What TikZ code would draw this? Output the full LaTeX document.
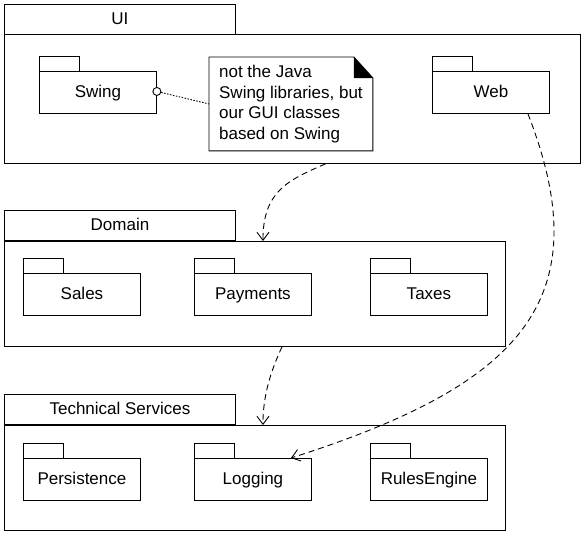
\documentclass[tikz,border=0pt]{standalone}
\usepackage{fontspec}
\setmainfont{Liberation Sans}
\usetikzlibrary{arrows.meta}

\begin{document}
\begin{tikzpicture}[x=1pt,y=1pt,line width=0.9pt,
    font=\fontsize{17}{20.5}\selectfont,
    box/.style={draw,rectangle,anchor=north west,inner sep=0pt},
    label text/.style={text height=14pt,text depth=3pt},
    bigtab/.style={box,label text,minimum width=231pt,minimum height=30pt},
    smalltab/.style={box,minimum width=40pt,minimum height=15pt},
    smallpkg/.style={box,label text,minimum width=117pt,minimum height=42pt},
    dep/.style={dash pattern=on 6pt off 4pt,-{Straight Barb[length=8pt,width=12pt]}}]
    \useasboundingbox (0,0) rectangle (584,-533);

    % UI layer
    \node[bigtab] (uitab) at (4,-4) {UI};
    \node[box,minimum width=576pt,minimum height=129pt] (ui) at (4,-34) {};
    \node[smalltab] (swingtab) at (39,-56) {};
    \node[smallpkg] (swing) at (39,-71) {Swing};
    \node[smalltab] (webtab) at (432,-56) {};
    \node[smallpkg] (web) at (432,-71) {Web};
    \node[anchor=north west,minimum width=163pt,minimum height=93pt,
          inner sep=0pt,align=left] (note) at (209,-57)
          {not the Java\\Swing libraries, but\\our GUI classes\\based on Swing};
    \draw (note.north west) -- ([xshift=-19pt]note.north east)
          -- ([yshift=-21pt]note.north east) -- (note.south east)
          -- (note.south west) -- cycle;
    \fill ([xshift=-19pt]note.north east) -- ([xshift=-19pt,yshift=-21pt]note.north east)
          -- ([yshift=-21pt]note.north east) -- cycle;
    \node[circle,draw,fill=white,inner sep=0pt,minimum size=8pt] (knob) at ([yshift=1pt]swing.east) {};
    \draw[dash pattern=on 1.5pt off 1.5pt] (knob) -- (note.west);

    % Domain layer
    \node[bigtab] (domaintab) at (4,-210) {Domain};
    \node[box,minimum width=501pt,minimum height=105pt] (domain) at (4,-241) {};
    \node[smalltab] (salestab) at (23,-258) {};
    \node[smallpkg] (sales) at (23,-273) {Sales};
    \node[smalltab] (paymentstab) at (194,-258) {};
    \node[smallpkg] (payments) at (194,-273) {Payments};
    \node[smalltab] (taxestab) at (370,-258) {};
    \node[smallpkg] (taxes) at (370,-273) {Taxes};

    % Technical Services layer
    \node[bigtab] (techtab) at (4,-394) {Technical Services};
    \node[box,minimum width=501pt,minimum height=105pt] (tech) at (4,-425) {};
    \node[smalltab] (persistencetab) at (23,-443) {};
    \node[smallpkg] (persistence) at (23,-458) {Persistence};
    \node[smalltab] (loggingtab) at (194,-443) {};
    \node[smallpkg] (logging) at (194,-458) {Logging};
    \node[smalltab] (rulestab) at (370,-443) {};
    \node[smallpkg] (rules) at (370,-458) {RulesEngine};

    % dependencies
    \draw[dep] ([xshift=33pt]ui.south) .. controls +(-37,-16) and +(0,50) .. ([xshift=8pt]domain.north);
    \draw[dep] ([xshift=27pt]domain.south) .. controls +(-11,-24) and +(0,30) .. ([xshift=8pt]tech.north);
    \draw[dep] ([xshift=37pt]web.south) .. controls +(73,-187) and +(229,73) .. ([xshift=38pt]logging.north);
\end{tikzpicture}
\end{document}
